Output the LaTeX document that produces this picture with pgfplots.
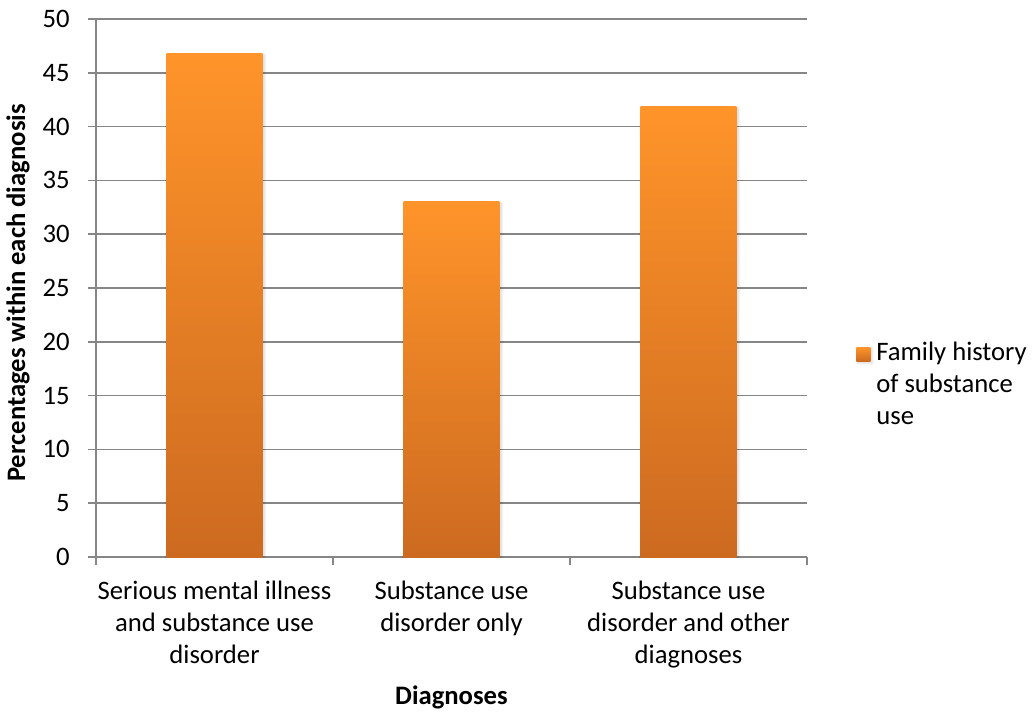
\documentclass[border=0pt]{standalone}
\usepackage{fontspec}
\setmainfont{Carlito}
\usepackage{pgfplots}
\pgfplotsset{compat=1.18}
\usetikzlibrary{shadows.blur}
\definecolor{barTop}{RGB}{255,148,42}
\definecolor{barBot}{RGB}{204,106,32}
\definecolor{gridgray}{RGB}{134,134,134}
\newcommand{\chartfont}{\fontsize{20}{24}\selectfont}
\begin{document}
\begin{tikzpicture}[x=1pt,y=1pt]
\useasboundingbox (-72,-115.5) rectangle (704.25,417.75);
\begin{axis}[
  at={(0,0)}, anchor=south west,
  scale only axis, width=533.25pt, height=403.5pt,
  xmin=-0.5, xmax=2.5, ymin=0, ymax=50,
  axis lines=left,
  axis line style={-, draw=gridgray, line width=1.1pt},
  ytick={0,5,...,50},
  ymajorgrids,
  grid style={draw=gridgray, line width=1.1pt},
  tick align=outside,
  major tick length=6pt, minor tick length=6pt,
  y tick style={draw=gridgray, line width=1.1pt},
  minor x tick style={draw=gridgray, line width=1.1pt},
  major x tick style={draw=none},
  xtick={0,1,2},
  minor xtick={-0.5,0.5,1.5,2.5},
  xticklabels={{Serious mental illness\\and substance use\\disorder},
               {Substance use\\disorder only},
               {Substance use\\disorder and other\\diagnoses}},
  xticklabel style={align=center, anchor=north, inner sep=0pt, yshift=-11.5pt, font=\chartfont},
  yticklabel style={anchor=east, inner sep=0pt, xshift=-13.5pt, font=\chartfont},
  /pgf/number format/assume math mode=true,
  every axis y label/.style={at={(axis description cs:0,0.4907)}, xshift=-58.5pt,
      rotate=90, anchor=center, font=\bfseries\chartfont},
  every axis x label/.style={at={(axis description cs:0.5,0)}, yshift=-105pt,
      anchor=center, font=\bfseries\chartfont},
  ylabel={Percentages within each diagnosis},
  xlabel={Diagnoses},
  legend style={at={(rel axis cs:1.069,0.3216)}, anchor=west, draw=none, fill=none,
      inner sep=0pt, column sep=4.5pt, font=\chartfont, nodes={align=left, inner sep=0pt}},
  legend cell align=left,
  legend image code/.code={\shade[top color=barTop, bottom color=barBot]
      (0pt,17pt) rectangle (10.5pt,27.5pt);},
  bar style/.style={ybar, bar width=0.405, bar shift=0pt, draw=none,
      top color=barTop, bottom color=barBot,
      blur shadow={shadow xshift=1.2pt, shadow yshift=-1.2pt,
                   shadow opacity=18, shadow blur radius=2pt, shadow blur steps=6}},
]
\addplot[bar style] coordinates {(0,46.8)};
\addlegendentry{Family history\\of substance\\use}
\addplot[bar style, forget plot] coordinates {(1,33.0)};
\addplot[bar style, forget plot] coordinates {(2,41.9)};
\end{axis}
\end{tikzpicture}
\end{document}
